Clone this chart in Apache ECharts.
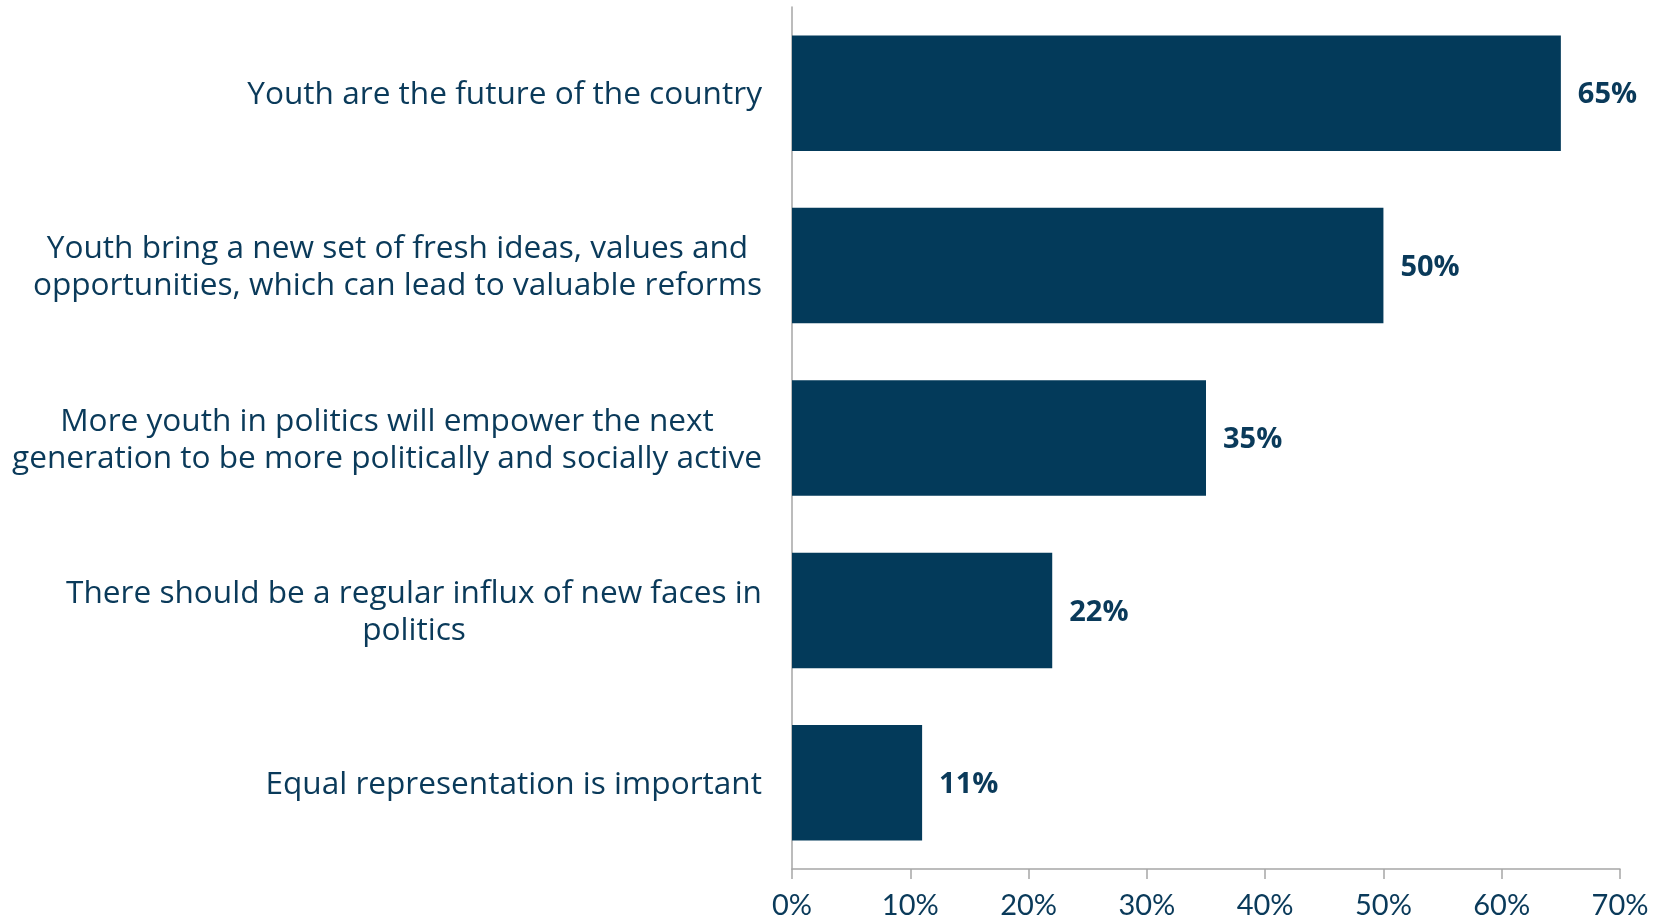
<!DOCTYPE html>
<html><head><meta charset="utf-8">
<script src="https://cdn.jsdelivr.net/npm/echarts@6/dist/echarts.min.js"></script>
<style>html,body{margin:0;padding:0;background:#fff}#c{width:1666px;height:924px}</style>
</head><body><div id="c"></div>
<script>
const categories = [
  "Youth are the future of the country",
  "Youth bring a new set of fresh ideas, values and\nopportunities, which can lead to valuable reforms",
  "More youth in politics will empower the next\ngeneration to be more politically and socially active",
  "There should be a regular influx of new faces in\npolitics",
  "Equal representation is important"
];
const values = [65, 50, 35, 22, 11];
const xTicks = [0, 10, 20, 30, 40, 50, 60, 70];

const FONT = 'Open Sans';
const TXT = '#0a3a5a';
const BAR = '#033a5a';
const chart = echarts.init(document.getElementById('c'), null, {renderer: 'canvas'});
chart.setOption({
  animation: false,
  grid: {left: 792, top: 7, right: 46, bottom: 55, containLabel: false},
  xAxis: {
    type: 'value', min: xTicks[0], max: xTicks[xTicks.length - 1], interval: 10,
    axisLine: {show: true, lineStyle: {color: '#a6a6a6', width: 1.5}},
    axisTick: {show: true, length: 10, lineStyle: {color: '#a6a6a6', width: 1.5}},
    splitLine: {show: false},
    axisLabel: {formatter: v => v + '%', color: TXT, fontFamily: 'Lato', fontSize: 29, margin: 22}
  },
  yAxis: {
    type: 'category', data: categories, inverse: true,
    axisLine: {show: true, lineStyle: {color: '#a6a6a6', width: 1.5}},
    axisTick: {show: false},
    axisLabel: {
      margin: 30, color: TXT, fontFamily: FONT, fontSize: 31.6, lineHeight: 37,
      formatter: v => v.split('\n').map(l => '{c|' + l + '}').join('\n'),
      rich: {c: {align: 'center', color: TXT, fontFamily: FONT, fontSize: 31.6, lineHeight: 37, padding: [4, 0, 0, 0]}}
    }
  },
  series: [{
    type: 'bar', data: values, barCategoryGap: '33%',
    itemStyle: {color: BAR},
    label: {show: true, position: 'right', distance: 17, offset: [0, 2], formatter: p => p.value + '%',
      color: TXT, fontFamily: FONT, fontWeight: 'bold', fontSize: 29}
  }]
});
</script></body></html>
